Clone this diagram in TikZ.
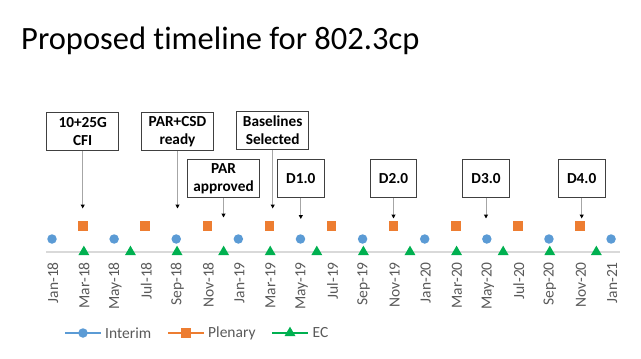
\documentclass[tikz,border=0pt]{standalone}
\usepackage{fontspec}
\setmainfont{Carlito}[Ligatures=NoCommon]
\usetikzlibrary{arrows.meta,positioning,shapes.geometric}
\definecolor{Interim}{HTML}{5B9BD5}
\definecolor{Plenary}{HTML}{ED7D31}
\definecolor{EC}{HTML}{00B050}
\definecolor{AxisGray}{HTML}{D9D9D9}
\definecolor{LabelGray}{HTML}{595959}
\definecolor{LeadGray}{HTML}{A6A6A6}
\definecolor{BoxGray}{HTML}{404040}

\begin{document}
\begin{tikzpicture}[
  x=1pt,y=-1pt,
  callout/.style={draw=BoxGray,fill=white,line width=0.9pt,minimum height=38pt,align=center,inner sep=2pt,font=\fontsize{15.3}{18}\selectfont\bfseries},
  wide/.style={callout,minimum width=72pt},
  narrow/.style={callout,minimum width=46.5pt},
  lead/.style={-{Triangle[length=4pt,width=4pt,black]},draw=LeadGray,line width=1pt},
  interim/.style={circle,fill=Interim,inner sep=0pt,minimum size=9.5pt},
  plenary/.style={rectangle,fill=Plenary,inner sep=0pt,minimum size=9.5pt},
  ec/.style={regular polygon,regular polygon sides=3,fill=EC,inner sep=0pt,minimum size=12.7pt},
  tick/.style={rotate=90,anchor=east,inner sep=0pt,text=LabelGray,font=\fontsize{15.5}{18}\selectfont},
  legend/.style={anchor=west,inner sep=0pt,text=LabelGray,font=\fontsize{15.5}{18}\selectfont}
]
\useasboundingbox (0,0) rectangle (641,359);
\node[anchor=base west,inner sep=0pt,font=\fontsize{32.5}{39}\selectfont] (title) at (21,49.3) {Proposed timeline for 802.3cp};

% axis and series
\coordinate (axisL) at (46,252);
\coordinate (axisR) at (620,252);
\draw[AxisGray,line width=1.3pt] (axisL) -- (axisR);
\foreach \m in {0,4,...,36} \node[interim] (i\m) at ({52+15.53*\m},239) {};
\foreach \m in {2,6,...,34} \node[plenary] (p\m) at ({52+15.53*\m},226) {};
\foreach \m in {2,5,...,35} \node[ec] (e\m) at ({52.8+15.53*\m},252) {};
\foreach \lab [count=\i from 0] in {Jan-18,Mar-18,May-18,Jul-18,Sep-18,Nov-18,Jan-19,Mar-19,May-19,Jul-19,Sep-19,Nov-19,Jan-20,Mar-20,May-20,Jul-20,Sep-20,Nov-20,Jan-21}
  \node[tick] (t\i) at ({53+31.06*\i},262) {\lab};

% milestones
\node[wide] (cfi) at (82.7,131.5) {10+25G\\CFI};
\node[wide] (parcsd) at (177.5,131.5) {PAR+CSD\\ready};
\node[wide] (parok) at (223.5,178.5) {PAR\\approved};
\node[wide] (baseline) at (272.7,130.5) {Baselines\\Selected};
\node[narrow] (d1) at (300.8,178.5) {D1.0};
\node[narrow] (d2) at (393.5,178.5) {D2.0};
\node[narrow] (d3) at (486,178.5) {D3.0};
\node[narrow] (d4) at (581.7,178.5) {D4.0};
\coordinate (cfiTip) at (82.7,208.5);
\coordinate (parcsdTip) at (177.5,208.5);
\coordinate (parokTip) at (223.5,217.5);
\coordinate (baselineTip) at (272.7,208.5);
\coordinate (d1Tip) at (300.8,219);
\coordinate (d2Tip) at (393.5,218.5);
\coordinate (d3Tip) at (486,218.5);
\coordinate (d4Tip) at (581.7,218.5);
\foreach \n in {cfi,parcsd,parok,baseline,d1,d2,d3,d4}
  \draw[lead] (\n) -- (\n Tip);

% legend
\coordinate (li1) at (65,333);   \coordinate (li2) at (101,333);
\coordinate (lp1) at (168,333);  \coordinate (lp2) at (204,333);
\coordinate (le1) at (272,333);  \coordinate (le2) at (308,333);
\draw[Interim,line width=2pt] (li1) -- (li2);
\draw[Plenary,line width=2pt] (lp1) -- (lp2);
\draw[EC,line width=2pt] (le1) -- (le2);
\node[interim] (liM) at (83,333) {};
\node[plenary] (lpM) at (186,333) {};
\node[ec] (leM) at (290,333) {};
\node[legend] (liT) at (105,333) {Interim};
\node[legend] (lpT) at (208,333) {Plenary};
\node[legend] (leT) at (312.5,333) {EC};
\end{tikzpicture}
\end{document}
